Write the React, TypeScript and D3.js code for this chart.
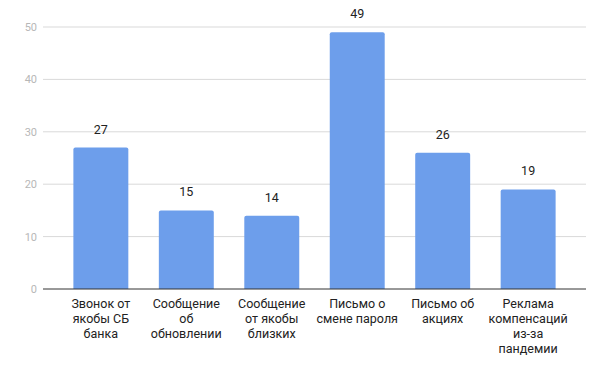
import React from "react";
import * as d3 from "d3";

const categories: string[][] = [
  ["Звонок от", "якобы СБ", "банка"],
  ["Сообщение", "об", "обновлении"],
  ["Сообщение", "от якобы", "близких"],
  ["Письмо о", "смене пароля"],
  ["Письмо об", "акциях"],
  ["Реклама", "компенсаций", "из-за", "пандемии"],
];
const values: number[] = [27, 15, 14, 49, 26, 19];
const yTicks: number[] = [0, 10, 20, 30, 40, 50];

export default function App() {
  const W = 606, H = 376;
  const gridLeft = 43, gridRight = 586;
  const x = d3
    .scaleBand<number>()
    .domain(values.map((_, i) => i))
    .range([58, 571])
    .paddingInner(0.357)
    .paddingOuter(0.18);
  const y = d3.scaleLinear().domain([0, 50]).range([289, 27]);
  const font = "Roboto, 'Noto Sans', sans-serif";
  return (
    <svg width={W} height={H} style={{ position: "absolute", left: 0, top: 0, background: "#fff" }}>
      {yTicks.map((t) => (
        <g key={t}>
          {t !== 0 && (
            <line x1={gridLeft} x2={gridRight} y1={y(t)} y2={y(t)} stroke="#d9d9d9" strokeWidth={1} />
          )}
          <text x={37} y={y(t) + 4} textAnchor="end" fontSize={11} fill="#b7b7b7" fontFamily={font}>
            {t}
          </text>
        </g>
      ))}
      {values.map((v, i) => {
        const bx = x(i)!;
        const bw = x.bandwidth();
        const top = y(v);
        const bottom = y(0);
        const r = 2;
        const path = `M${bx},${bottom}V${top + r}Q${bx},${top} ${bx + r},${top}H${bx + bw - r}Q${bx + bw},${top} ${bx + bw},${top + r}V${bottom}Z`;
        return (
          <g key={i}>
            <path d={path} fill="#6d9eeb" />
            <text x={bx + bw / 2} y={top - 14} textAnchor="middle" fontSize={12.5} fill="#222" fontFamily={font}>
              {v}
            </text>
            <text textAnchor="middle" fontSize={12.5} fill="#222" fontFamily={font}>
              {categories[i].map((line, j) => (
                <tspan key={j} x={bx + bw / 2} y={308 + j * 15}>
                  {line}
                </tspan>
              ))}
            </text>
          </g>
        );
      })}
      <line x1={gridLeft} x2={gridRight} y1={y(0)} y2={y(0)} stroke="#333" strokeWidth={1} />
    </svg>
  );
}
